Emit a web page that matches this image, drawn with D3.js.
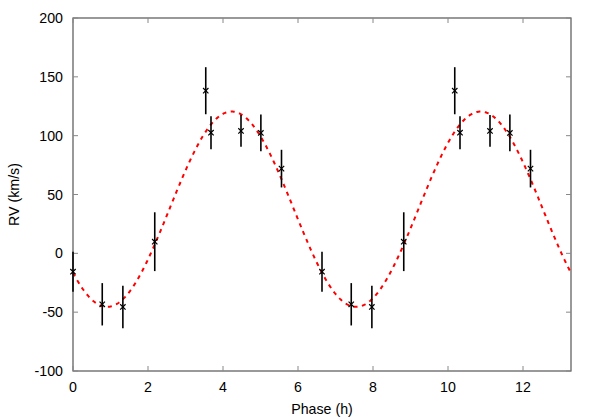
<!DOCTYPE html>
<html>
<head>
  <meta charset="utf-8">
  <title>RV curve</title>
  <script src="https://d3js.org/d3.v7.min.js"></script>
  <style>
    body { margin: 0; background: #fff; }
    text { font-family: "Liberation Sans", Arial, sans-serif; font-size: 14.2px; fill: #000; }
  </style>
</head>
<body>
<svg width="598" height="419"></svg>
<script>

// observed radial velocities (phase-folded, shown over two cycles)
var phase = [0.00, 0.78, 1.33, 2.18, 3.54, 3.68, 4.48, 5.01, 5.56,
             6.64, 7.42, 7.97, 8.82, 10.18, 10.32, 11.12, 11.65, 12.20];
var rv    = [-15.6, -43.3, -45.6, 9.9, 138.2, 102.5, 104.0, 102.3, 72.0,
             -15.6, -43.3, -45.6, 9.9, 138.2, 102.5, 104.0, 102.3, 72.0];
var rvErr = [17, 18, 18, 25, 20, 14, 13.5, 15.6, 16,
             17, 18, 18, 25, 20, 14, 13.5, 15.6, 16];

// sine fit parameters
var period = 6.64, gamma = 37.5, K = 83, tMax = 4.23;

var xTicks = [0, 2, 4, 6, 8, 10, 12];
var yTicks = [-100, -50, 0, 50, 100, 150, 200];

var svg = d3.select("svg"),
    margin = {left: 73, right: 27, top: 18, bottom: 48},
    width = 598 - margin.left - margin.right,
    height = 419 - margin.top - margin.bottom;

var x = d3.scaleLinear().domain([0, 2 * period]).range([margin.left, margin.left + width]);
var y = d3.scaleLinear().domain([-100, 200]).range([margin.top + height, margin.top]);

// frame
svg.append("rect")
    .attr("x", margin.left).attr("y", margin.top)
    .attr("width", width).attr("height", height)
    .attr("fill", "none").attr("stroke", "#555").attr("stroke-width", 1.2);

var axes = svg.append("g").attr("stroke", "#888").attr("stroke-width", 1);

axes.selectAll(".xt").data(xTicks).enter().append("path")
    .attr("d", function(d) {
      var px = x(d);
      return "M" + px + "," + (margin.top + height) + "v-5M" + px + "," + margin.top + "v5";
    });
axes.selectAll(".yt").data(yTicks).enter().append("path")
    .attr("d", function(d) {
      var py = y(d);
      return "M" + margin.left + "," + py + "h5M" + (margin.left + width) + "," + py + "h-5";
    });

svg.selectAll(".xl").data(xTicks).enter().append("text")
    .attr("x", function(d) { return x(d); })
    .attr("y", margin.top + height + 21)
    .attr("text-anchor", "middle")
    .text(function(d) { return d; });

svg.selectAll(".yl").data(yTicks).enter().append("text")
    .attr("x", margin.left - 10)
    .attr("y", function(d) { return y(d) + 5; })
    .attr("text-anchor", "end")
    .text(function(d) { return d; });

svg.append("text")
    .attr("x", margin.left + width / 2)
    .attr("y", 414)
    .attr("text-anchor", "middle")
    .text("Phase (h)");

svg.append("text")
    .attr("transform", "translate(19," + (margin.top + height / 2) + ") rotate(-90)")
    .attr("text-anchor", "middle")
    .text("RV (km/s)");

// fitted curve
var curve = d3.range(0, 2 * period + 0.001, 0.02).map(function(t) {
  return [t, gamma + K * Math.cos(2 * Math.PI * (t - tMax) / period)];
});

svg.append("path")
    .datum(curve)
    .attr("fill", "none")
    .attr("stroke", "#f00")
    .attr("stroke-width", 2)
    .attr("stroke-dasharray", "4,4.5")
    .attr("d", d3.line().x(function(d) { return x(d[0]); }).y(function(d) { return y(d[1]); }));

// error bars and markers
var pts = svg.append("g").selectAll("g").data(phase).enter().append("g");

pts.append("line")
    .attr("x1", function(d) { return x(d); })
    .attr("x2", function(d) { return x(d); })
    .attr("y1", function(d, i) { return y(rv[i] + rvErr[i]); })
    .attr("y2", function(d, i) { return y(rv[i] - rvErr[i]); })
    .attr("stroke", "#000").attr("stroke-width", 1.6);

pts.append("path")
    .attr("d", function(d, i) {
      var px = x(d), py = y(rv[i]), s = 2.7;
      return "M" + (px - s) + "," + (py - s) + "L" + (px + s) + "," + (py + s) +
             "M" + (px - s) + "," + (py + s) + "L" + (px + s) + "," + (py - s);
    })
    .attr("stroke", "#000").attr("stroke-width", 1.2);

</script>
</body>
</html>
